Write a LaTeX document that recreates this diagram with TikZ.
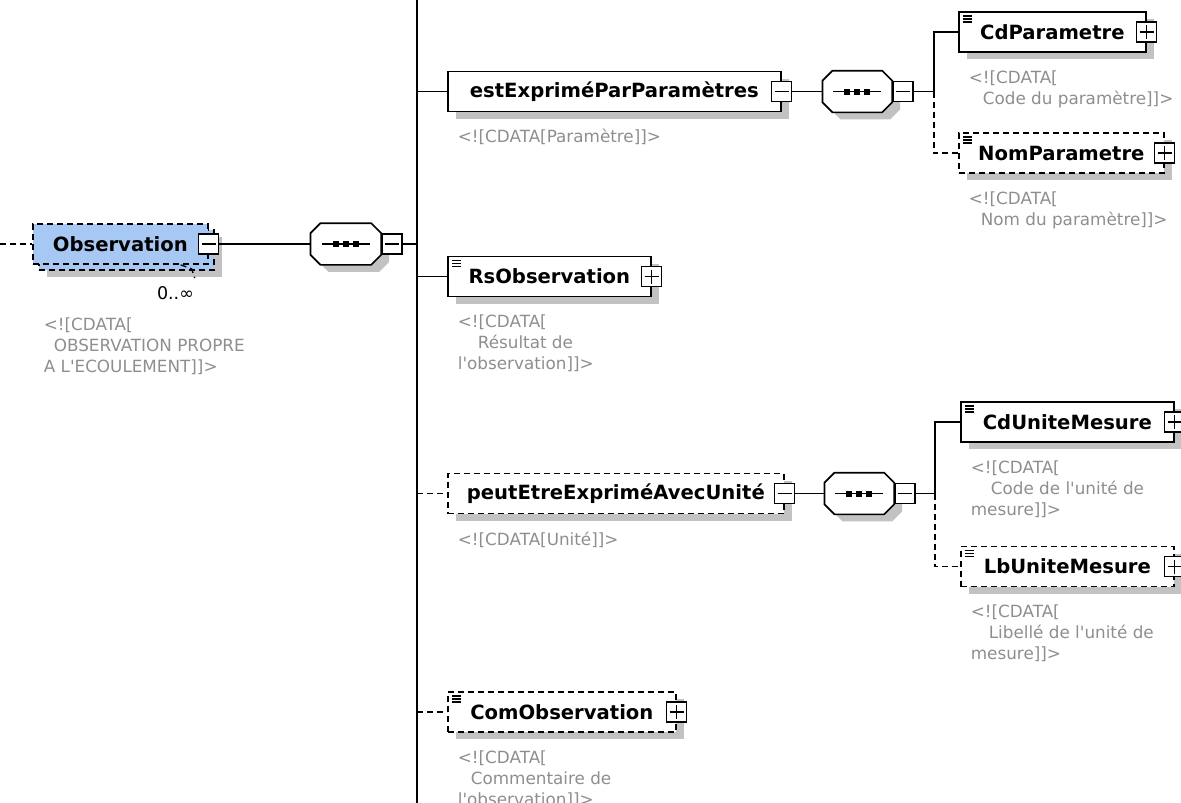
\documentclass[tikz,border=0pt]{standalone}
\usepackage{fontspec}
\setmainfont{DejaVu Sans}[Ligatures=TeXOff]
\usetikzlibrary{positioning,shadows}

\definecolor{obsblue}{HTML}{A6C8F2}
\definecolor{notegray}{HTML}{8E8E8E}
\definecolor{shade}{HTML}{C2C2C2}

\tikzset{
  box/.style={draw, fill=white, anchor=west, minimum height=40pt, inner sep=0pt,
    font=\bfseries\fontsize{19.6}{23}\selectfont},
  shad/.style={drop shadow={shadow xshift=8pt, shadow yshift=-7pt, fill=shade, opacity=1}},
  elem/.style={box, shad},
  opt/.style={dash pattern=on 6pt off 4pt},
  leaf/.style={path picture={
    \foreach \k in {4,7,10}
      \draw[solid, line width=1.2pt] ([shift={(4pt,-\k pt)}]path picture bounding box.north west) -- ++(9pt,0pt);}},
  pm/.style={draw, solid, line width=1.5pt, fill=white, minimum size=20pt, inner sep=0pt},
  minus/.style={pm, path picture={
    \draw[line width=1.5pt] ([xshift=3pt]path picture bounding box.west) -- ([xshift=-3pt]path picture bounding box.east);}},
  plus/.style={pm, path picture={
    \draw[line width=1.5pt] ([xshift=3pt]path picture bounding box.west) -- ([xshift=-3pt]path picture bounding box.east)
      ([yshift=-3pt]path picture bounding box.north) -- ([yshift=3pt]path picture bounding box.south);}},
  seq/.style={minimum width=68pt, minimum height=40pt, inner sep=0pt},
  note/.style={align=left, inner sep=0pt, text=notegray, font=\fontsize{16.8}{21}\selectfont}
}

% octagon of a sequence, with its three dots
\newcommand\seqmark[1]{%
  \filldraw[fill=white, shad] ([xshift=10pt]#1.north west) -- ([xshift=-10pt]#1.north east)
    -- ([yshift=-10pt]#1.north east) -- ([yshift=10pt]#1.south east)
    -- ([xshift=-10pt]#1.south east) -- ([xshift=10pt]#1.south west)
    -- ([yshift=10pt]#1.south west) -- ([yshift=-10pt]#1.north west) -- cycle;
  \draw ([xshift=-24pt]#1.center) -- ([xshift=24pt]#1.center);
  \foreach \d in {-10,0,10}
    \fill ([xshift=\d pt]#1.center) +(-3,-3) rectangle +(3,3);
}

\begin{document}
\begin{tikzpicture}[x=1pt, y=-1pt, line width=1.7pt]
\useasboundingbox (0,0) rectangle (1181,803);
\coordinate (bustop) at (417,0);
\coordinate (busbot) at (417,803);
\coordinate (obsin) at (0,244);

% Observation, repeated 0..n
\node[elem, opt, fill=obsblue, minimum width=175pt] (obsback) at (38,250) {};
\node[box, opt, fill=obsblue, minimum width=175pt] (obs) at (32,244) {Observation};
\node[minus] (obspm) at (obs.east) {};
\node[inner sep=0pt, font=\fontsize{17.5}{20}\selectfont, below left=15pt and 20pt of obsback.south east] (obsmult) {0..∞};
\node[note, below right=46pt and 5pt of obsback.south west] (obsnote) {<![CDATA[\\\hspace*{10pt}OBSERVATION PROPRE\\A L'ECOULEMENT]]>};
\draw[opt] (obsin) -- (obs.west);
\draw[opt, line width=1.3pt] ([xshift=-28pt]obs.south east) -- ++(11,4) -- ++(3,9);

\node[seq, minimum width=69pt, right=91pt of obspm] (seqA) {};
\seqmark{seqA}
\node[minus, right=0pt of seqA] (seqApm) {};
\draw (obspm.east) -- (seqA.west);
\draw (seqApm.east) -- (seqApm.east -| bustop);
\draw (bustop) -- (busbot);

% estExpriméParParamètres
\node[elem, minimum width=333pt] (est) at (447,91.5) {estExpriméParParamètres};
\node[minus] (estpm) at (est.east) {};
\node[note, below right=16pt and 10pt of est.south west] (estnote) {<![CDATA[Paramètre]]>};
\node[seq, right=30pt of estpm] (seqB) {};
\seqmark{seqB}
\node[minus, right=0pt of seqB] (seqBpm) {};
\coordinate[right=20pt of seqBpm] (brB);
\draw (estpm.east) -- (seqB.west);
\draw (seqBpm.east) -- (brB);

\node[elem, leaf, minimum width=187pt] (cdpar) at (958,32) {CdParametre};
\node[plus] (cdparpm) at (cdpar.east) {};
\node[note, below right=17pt and 10pt of cdpar.south west] (cdparnote) {<![CDATA[\\\hspace*{14pt}Code du paramètre]]>};
\node[elem, opt, leaf, minimum width=205pt] (nompar) at (958,153) {NomParametre};
\node[plus] (nomparpm) at (nompar.east) {};
\node[note, below right=17pt and 10pt of nompar.south west] (nomparnote) {<![CDATA[\\\hspace*{12pt}Nom du paramètre]]>};
\draw (brB) |- (cdpar.west);
\draw[opt] (brB) |- (nompar.west);

% RsObservation
\node[elem, leaf, minimum width=203pt] (rs) at (447,276.5) {RsObservation};
\node[plus] (rspm) at (rs.east) {};
\node[note, below right=17pt and 10pt of rs.south west] (rsnote) {<![CDATA[\\\hspace*{20pt}Résultat de\\l'observation]]>};

% peutEtreExpriméAvecUnité
\node[elem, opt, minimum width=336pt] (peut) at (447,493.5) {peutEtreExpriméAvecUnité};
\node[minus] (peutpm) at (peut.east) {};
\node[note, below right=17pt and 10pt of peut.south west] (peutnote) {<![CDATA[Unité]]>};
\node[seq, right=29pt of peutpm] (seqC) {};
\seqmark{seqC}
\node[minus, right=0pt of seqC] (seqCpm) {};
\coordinate[right=19pt of seqCpm] (brC);
\draw (peutpm.east) -- (seqC.west);
\draw (seqCpm.east) -- (brC);

\node[elem, leaf, minimum width=213pt] (cdunit) at (960,422) {CdUniteMesure};
\node[plus] (cdunitpm) at (cdunit.east) {};
\node[note, below right=17pt and 10pt of cdunit.south west] (cdunitnote) {<![CDATA[\\\hspace*{20pt}Code de l'unité de\\mesure]]>};
\node[elem, opt, leaf, minimum width=213pt] (lbunit) at (960,566.5) {LbUniteMesure};
\node[plus] (lbunitpm) at (lbunit.east) {};
\node[note, below right=17pt and 10pt of lbunit.south west] (lbunitnote) {<![CDATA[\\\hspace*{18pt}Libellé de l'unité de\\mesure]]>};
\draw (brC) |- (cdunit.west);
\draw[opt] (brC) |- (lbunit.west);

% ComObservation
\node[elem, opt, leaf, minimum width=228pt] (com) at (447,712) {ComObservation};
\node[plus] (compm) at (com.east) {};
\node[note, below right=17pt and 10pt of com.south west] (comnote) {<![CDATA[\\\hspace*{13pt}Commentaire de\\l'observation]]>};

% branches off the bus
\foreach \e in {est,rs}
  \draw (\e.west -| bustop) -- (\e.west);
\foreach \e in {peut,com}
  \draw[opt] (\e.west -| bustop) -- (\e.west);
\end{tikzpicture}
\end{document}
